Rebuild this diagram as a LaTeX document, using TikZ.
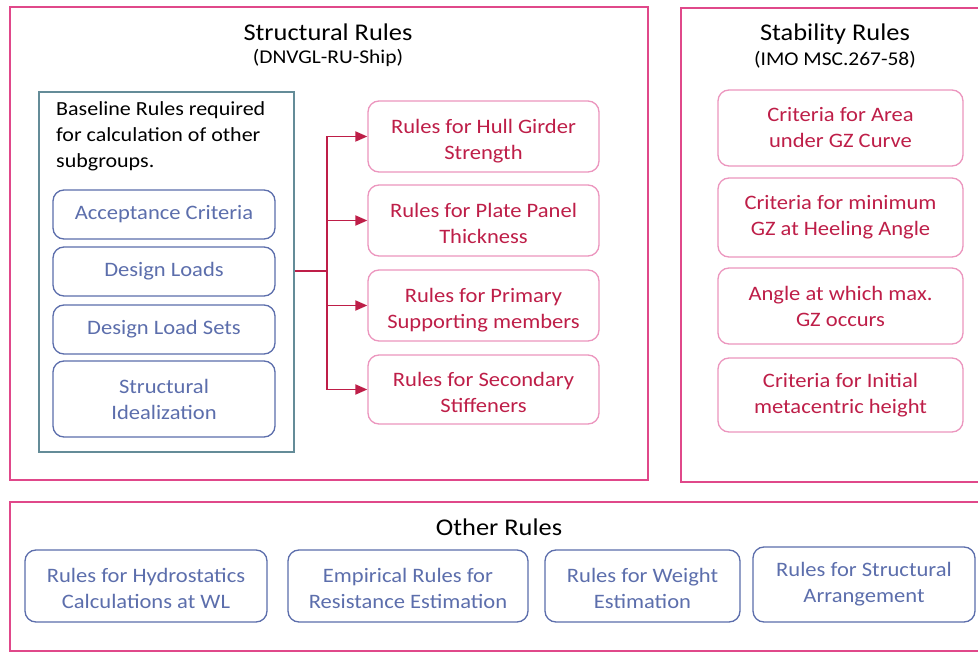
\documentclass[tikz,border=0pt]{standalone}
\usepackage{fontspec}
\setmainfont{Carlito}[FakeStretch=1.1]
\usetikzlibrary{arrows.meta}
\definecolor{framepink}{RGB}{224,72,138}
\definecolor{softpink}{RGB}{236,150,190}
\definecolor{crimson}{RGB}{190,30,72}
\definecolor{slateblue}{RGB}{92,110,172}
\definecolor{tealgray}{RGB}{100,140,152}
\tikzset{
  frame/.style={draw=framepink, line width=2.4pt},
  grouptitle/.style={font=\fontsize{24}{27}\selectfont, text=black, inner sep=0pt},
  groupsub/.style={font=\fontsize{19.5}{22}\selectfont, text=black, inner sep=0pt},
  rulebox/.style={rectangle, rounded corners=11pt, line width=1.3pt, align=center,
    font=\fontsize{20.5}{26}\selectfont, inner sep=0pt},
  pinkbox/.style={rulebox, draw=softpink, text=crimson},
  bluebox/.style={rulebox, draw=slateblue, text=slateblue},
  sitlow/.style={text height=#1},
  feed/.style={draw=crimson, line width=1.8pt},
  feedarrow/.style={feed, -{Triangle[length=12pt,width=10pt]}},
}
\begin{document}
\begin{tikzpicture}[x=1pt, y=-1pt]
\useasboundingbox (0,0) rectangle (978,655);
\clip (0,0) rectangle (978,655);
\fill[white] (0,0) rectangle (978,655);

% group frames
\draw[frame] (10,7) rectangle (648,480);
\draw[frame] (681,8) rectangle (995,482);
\draw[frame] (10,502) rectangle (995,651);

% group titles
\node[grouptitle] (sttitle) at (328,32) {Structural Rules};
\node[groupsub] (stsub) at (328,58) {(DNVGL-RU-Ship)};
\node[grouptitle] (sbtitle) at (835,34) {Stability Rules};
\node[groupsub] (sbsub) at (835,60) {(IMO MSC.267-58)};
\node[grouptitle] (ottitle) at (499,527) {Other Rules};

% baseline rules panel
\node[draw=tealgray, line width=1.3pt, minimum width=255pt, minimum height=360pt, inner sep=0pt]
  (base) at (166.5,272) {};
\node[anchor=north west, align=left, font=\fontsize{20}{26}\selectfont, inner sep=0pt]
  (basetext) at (56,101) {Baseline Rules required\\for calculation of other\\subgroups.};
\node[bluebox, minimum width=222pt, minimum height=49pt] (accept) at (164,214.5) {Acceptance Criteria};
\node[bluebox, minimum width=222pt, minimum height=49pt] (loads) at (164,271.5) {Design Loads};
\node[bluebox, minimum width=222pt, minimum height=49pt] (loadsets) at (164,329.5) {Design Load Sets};
\node[bluebox, minimum width=222pt, minimum height=76pt] (ideal) at (164,399) {Structural\\Idealization};

% structural subgroups (labels sit slightly low in their boxes)
\node[pinkbox, minimum width=231pt, minimum height=71pt, sitlow=50pt] (hull) at (483.5,136.5) {Rules for Hull Girder\\Strength};
\node[pinkbox, minimum width=231pt, minimum height=71pt, sitlow=46pt] (plate) at (483.5,220.5) {Rules for Plate Panel\\Thickness};
\node[pinkbox, minimum width=231pt, minimum height=71pt, sitlow=50pt] (primary) at (483.5,305.5) {Rules for Primary\\Supporting members};
\node[pinkbox, minimum width=231pt, minimum height=69pt, sitlow=46pt] (secondary) at (483.5,389.5) {Rules for Secondary\\Stiffeners};

% connectors from the baseline panel
\coordinate (split) at (327,271);
\draw[feed] (base.east |- split) -- (split);
\draw[feed] (split |- hull.west) -- (split |- secondary.west);
\foreach \target in {hull, plate, primary, secondary}
  \draw[feedarrow] (split |- \target.west) -- (\target.west);

% stability criteria
\node[pinkbox, minimum width=245pt, minimum height=76pt] (area) at (840.5,128) {Criteria for Area\\under GZ Curve};
\node[pinkbox, minimum width=245pt, minimum height=79pt] (mingz) at (840.5,217.5) {Criteria for minimum\\GZ at Heeling Angle};
\node[pinkbox, minimum width=245pt, minimum height=76pt] (maxgz) at (840.5,306) {Angle at which max.\\GZ occurs};
\node[pinkbox, minimum width=245pt, minimum height=74pt] (gm) at (840.5,395) {Criteria for Initial\\metacentric height};

% other rules
\node[bluebox, minimum width=242pt, minimum height=72pt, sitlow=46pt] (hydro) at (146,586) {Rules for Hydrostatics\\Calculations at WL};
\node[bluebox, minimum width=240pt, minimum height=72pt, sitlow=46pt] (resist) at (408,586) {Empirical Rules for\\Resistance Estimation};
\node[bluebox, minimum width=195pt, minimum height=72pt, sitlow=46pt] (weight) at (642.5,586) {Rules for Weight\\Estimation};
\node[bluebox, minimum width=222pt, minimum height=75pt] (arrange) at (864,584.5) {Rules for Structural\\Arrangement};
\end{tikzpicture}
\end{document}
